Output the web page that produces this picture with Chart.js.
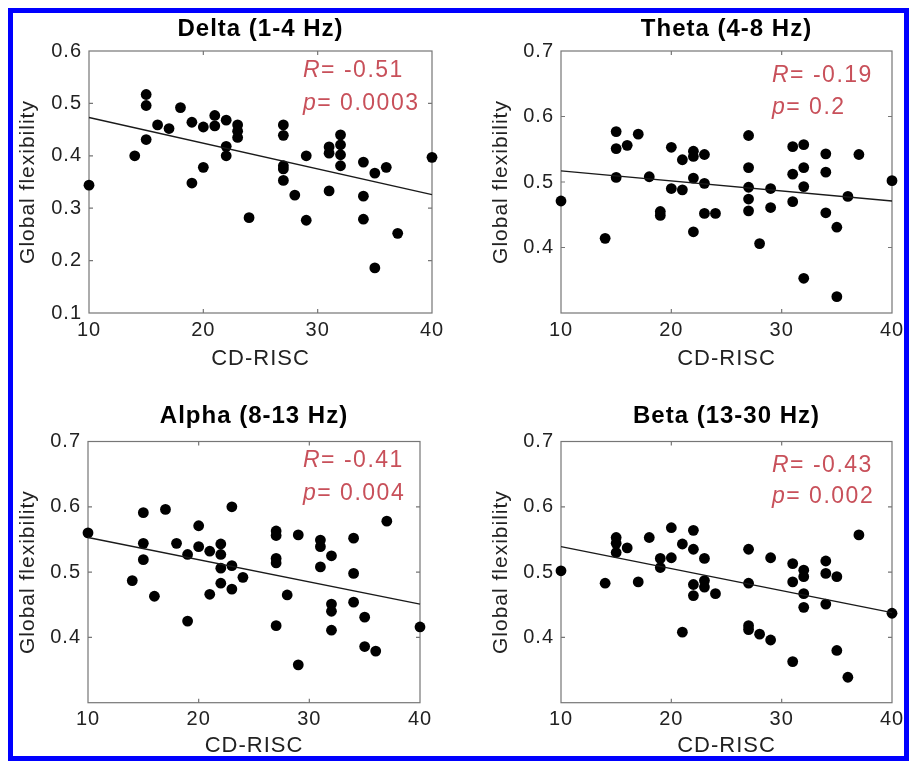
<!DOCTYPE html>
<html>
<head>
<meta charset="utf-8">
<script src="https://cdn.jsdelivr.net/npm/chart.js@4/dist/chart.umd.min.js"></script>
<style>
html,body{margin:0;padding:0;background:#fff;}
body{width:913px;height:761px;position:relative;overflow:hidden;}
canvas{position:absolute;}
#frame{position:absolute;left:8px;top:8px;width:891px;height:743px;border:5px solid #0000ff;pointer-events:none;}
</style>
</head>
<body>
<canvas id="c0" width="460" height="380" style="left:0px;top:0px"></canvas>
<canvas id="c1" width="443" height="380" style="left:470px;top:0px"></canvas>
<canvas id="c2" width="460" height="371" style="left:0px;top:390px"></canvas>
<canvas id="c3" width="443" height="371" style="left:470px;top:390px"></canvas>
<div id="frame"></div>
<script>
// ---------- data ----------
const xTicks = [10, 20, 30, 40];
const yTicksDelta = [0.1, 0.2, 0.3, 0.4, 0.5, 0.6];
const yTicksOther = [0.4, 0.5, 0.6, 0.7];
const panelTitles = ['Delta (1-4 Hz)', 'Theta (4-8 Hz)', 'Alpha (8-13 Hz)', 'Beta (13-30 Hz)'];
const xAxisTitle = 'CD-RISC';
const yAxisTitle = 'Global flexibility';
const rValues = ['-0.51', '-0.19', '-0.41', '-0.43'];
const pValues = ['0.0003', '0.2', '0.004', '0.002'];

const deltaX = [10,14,15,15,15,16,17,18,19,19,20,20,21,21,22,22,22,23,23,23,24,27,27,27,27,27,28,29,29,31,31,31,32,32,32,32,34,34,34,35,35,36,37,40];
const deltaY = [0.344,0.400,0.517,0.496,0.431,0.459,0.452,0.492,0.464,0.348,0.455,0.378,0.477,0.457,0.468,0.418,0.400,0.459,0.447,0.435,0.282,0.459,0.439,0.381,0.375,0.353,0.325,0.400,0.277,0.417,0.405,0.333,0.440,0.421,0.402,0.381,0.388,0.323,0.279,0.367,0.186,0.378,0.252,0.397];

const thetaX = [10,14,15,15,15,16,17,18,19,19,20,20,21,21,22,22,22,22,23,23,23,24,27,27,27,27,27,28,29,29,31,31,31,32,32,32,32,34,34,34,35,35,36,37,40];
const thetaY = [0.471,0.414,0.577,0.551,0.507,0.556,0.573,0.508,0.455,0.449,0.553,0.490,0.534,0.488,0.547,0.539,0.506,0.424,0.542,0.498,0.452,0.452,0.571,0.522,0.492,0.474,0.456,0.406,0.490,0.461,0.554,0.512,0.470,0.557,0.522,0.493,0.353,0.543,0.515,0.453,0.431,0.325,0.478,0.542,0.502];

const alphaX = [10,14,15,15,15,16,17,18,19,19,20,20,21,21,22,22,22,22,23,23,23,24,27,27,27,27,27,28,29,29,31,31,31,32,32,32,32,34,34,34,35,35,36,37,40];
const alphaY = [0.560,0.487,0.591,0.544,0.519,0.463,0.596,0.544,0.527,0.425,0.571,0.539,0.532,0.466,0.543,0.527,0.506,0.483,0.600,0.510,0.474,0.492,0.563,0.556,0.521,0.514,0.418,0.465,0.557,0.358,0.549,0.539,0.508,0.525,0.451,0.440,0.411,0.552,0.498,0.454,0.431,0.386,0.379,0.578,0.416];

const betaX = [10,14,15,15,15,16,17,18,19,19,20,20,21,21,22,22,22,22,23,23,23,24,27,27,27,27,28,29,29,31,31,31,32,32,32,32,34,34,34,35,35,36,37,40];
const betaY = [0.502,0.483,0.553,0.544,0.530,0.537,0.485,0.553,0.521,0.507,0.568,0.522,0.543,0.408,0.564,0.535,0.481,0.464,0.521,0.487,0.477,0.467,0.535,0.483,0.418,0.412,0.405,0.522,0.396,0.513,0.485,0.363,0.503,0.493,0.467,0.446,0.517,0.498,0.451,0.493,0.380,0.339,0.557,0.437];

// least-squares fit lines: values at x = 10 and x = 40
const fitX = [10, 40];
const fitStart = [0.473, 0.517, 0.553, 0.539];
const fitEnd = [0.326, 0.471, 0.451, 0.438];

// ---------- styling / layout ----------
const FONT = '"Liberation Sans", Arial, Helvetica, sans-serif';
const TEXT = '#222222';

const spacingPlugin = {
  id: 'spacing',
  beforeDraw(chart) { chart.ctx.letterSpacing = '1px'; }
};

const matlabBox = {
  id: 'matlabBox',
  beforeDatasetsDraw(chart) {
    const {ctx, chartArea: a, scales: {x, y}} = chart;
    ctx.save();
    ctx.strokeStyle = '#767676';
    ctx.lineWidth = 1.2;
    ctx.strokeRect(a.left, a.top, a.right - a.left, a.bottom - a.top);
    const tl = 4;
    ctx.beginPath();
    x.ticks.forEach(t => {
      const px = x.getPixelForValue(t.value);
      if (px <= a.left + 1 || px >= a.right - 1) return;
      ctx.moveTo(px, a.bottom); ctx.lineTo(px, a.bottom - tl);
      ctx.moveTo(px, a.top); ctx.lineTo(px, a.top + tl);
    });
    y.ticks.forEach(t => {
      const py = y.getPixelForValue(t.value);
      if (py <= a.top + 1 || py >= a.bottom - 1) return;
      ctx.moveTo(a.left, py); ctx.lineTo(a.left + tl, py);
      ctx.moveTo(a.right, py); ctx.lineTo(a.right - tl, py);
    });
    ctx.stroke();
    ctx.restore();
  }
};

const statsText = {
  id: 'statsText',
  afterDatasetsDraw(chart, args, opts) {
    const {ctx, chartArea: a} = chart;
    const i = opts.index;
    ctx.save();
    ctx.letterSpacing = '1.5px';
    ctx.fillStyle = '#c8505a';
    ctx.textAlign = 'left';
    ctx.textBaseline = 'alphabetic';
    const x0 = a.left + opts.dx;
    const y1 = a.top + opts.dy1, y2 = a.top + opts.dy2;
    ctx.font = 'italic 23px ' + FONT;
    ctx.fillText('R', x0, y1);
    const wR = ctx.measureText('R').width;
    ctx.fillText('p', x0, y2);
    const wP = ctx.measureText('p').width;
    ctx.font = '23px ' + FONT;
    ctx.fillText('= ' + rValues[i], x0 + wR, y1);
    ctx.fillText('= ' + pValues[i], x0 + wP, y2);
    ctx.restore();
  }
};

const layouts = [
  {padR: 28, yW: 89, xH: 67,   tTop: 14.8, tBot: 7.4,  yTP: 15.4, xTP: 7.8, dx: 214, dy1: 25.5, dy2: 58.5},
  {padR: 21, yW: 91, xH: 67,   tTop: 14.8, tBot: 7.4,  yTP: 18.4, xTP: 7.8, dx: 211, dy1: 31,   dy2: 62.5},
  {padR: 40, yW: 88, xH: 58.3, tTop: 12.3, tBot: 10.4, yTP: 15.4, xTP: 1.8, dx: 215, dy1: 25,   dy2: 58},
  {padR: 21, yW: 91, xH: 58.3, tTop: 12.3, tBot: 10.4, yTP: 18.4, xTP: 1.8, dx: 211, dy1: 30.5, dy2: 61}
];

const panels = [
  {xs: deltaX, ys: deltaY, yMin: 0.1, yMax: 0.6, yTicks: yTicksDelta},
  {xs: thetaX, ys: thetaY, yMin: 0.3, yMax: 0.7, yTicks: yTicksOther},
  {xs: alphaX, ys: alphaY, yMin: 0.3, yMax: 0.7, yTicks: yTicksOther},
  {xs: betaX,  ys: betaY,  yMin: 0.3, yMax: 0.7, yTicks: yTicksOther}
];

panels.forEach((p, i) => {
  const L = layouts[i];
  new Chart(document.getElementById('c' + i), {
    type: 'scatter',
    data: {
      datasets: [
        {
          type: 'line',
          data: [{x: fitX[0], y: fitStart[i]}, {x: fitX[1], y: fitEnd[i]}],
          borderColor: '#1a1a1a', borderWidth: 1.4, pointRadius: 0, fill: false,
          clip: false, order: 0
        },
        {
          data: p.xs.map((v, k) => ({x: v, y: p.ys[k]})),
          backgroundColor: '#000', borderColor: '#000', borderWidth: 0,
          pointRadius: 5.4, pointHoverRadius: 5.4, clip: false, order: 1
        }
      ]
    },
    options: {
      responsive: false,
      animation: false,
      devicePixelRatio: 1,
      events: [],
      layout: {autoPadding: false, padding: {left: 0, right: L.padR, top: 0, bottom: 0}},
      plugins: {
        legend: {display: false},
        tooltip: {enabled: false},
        title: {
          display: true, text: panelTitles[i], fullSize: false, color: '#000',
          font: {family: FONT, size: 24, weight: 'bold'},
          padding: {top: L.tTop, bottom: L.tBot}
        },
        statsText: {index: i, dx: L.dx, dy1: L.dy1, dy2: L.dy2}
      },
      scales: {
        x: {
          type: 'linear', min: xTicks[0], max: xTicks[xTicks.length - 1],
          afterBuildTicks: s => { s.ticks = xTicks.map(v => ({value: v})); },
          afterFit: s => { s.height = L.xH; },
          grid: {display: false, drawTicks: false},
          border: {display: false},
          ticks: {color: TEXT, font: {family: FONT, size: 20}, padding: 5, maxRotation: 0, autoSkip: false,
                  callback: v => String(v)},
          title: {display: true, text: xAxisTitle, color: TEXT, font: {family: FONT, size: 22},
                  padding: {top: 0, bottom: L.xTP}}
        },
        y: {
          type: 'linear', min: p.yMin, max: p.yMax,
          afterBuildTicks: s => { s.ticks = p.yTicks.map(v => ({value: v})); },
          afterFit: s => { s.width = L.yW; },
          grid: {display: false, drawTicks: false},
          border: {display: false},
          ticks: {color: TEXT, font: {family: FONT, size: 20}, padding: 7, autoSkip: false,
                  callback: v => Number(v).toFixed(1)},
          title: {display: true, text: yAxisTitle, color: TEXT, font: {family: FONT, size: 21},
                  padding: {top: L.yTP, bottom: 0}}
        }
      }
    },
    plugins: [spacingPlugin, matlabBox, statsText]
  });
});
</script>
</body>
</html>
